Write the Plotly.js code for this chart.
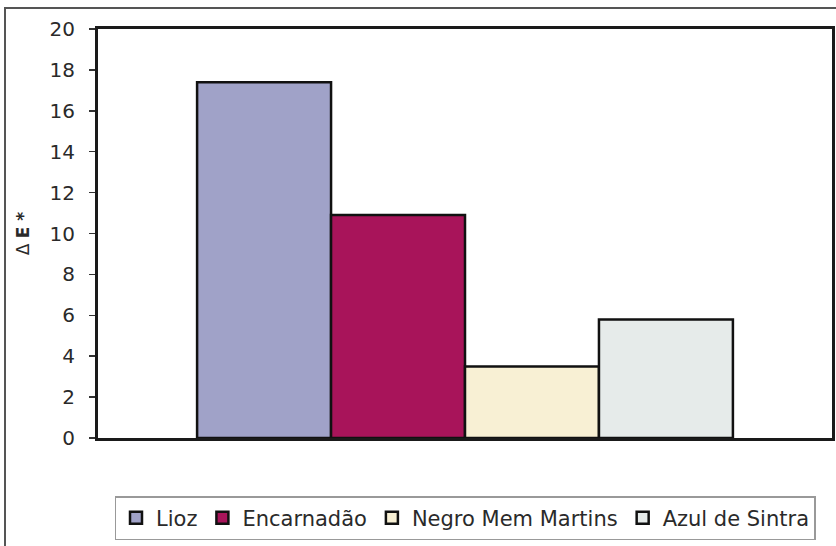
<!DOCTYPE html>
<html>
<head>
<meta charset="utf-8">
<script src="https://cdn.plot.ly/plotly-3.0.1.min.js"></script>
<style>
  html, body { margin: 0; padding: 0; background: #fff; }
  #wrap { position: relative; width: 836px; height: 546px; }
  #chart { width: 836px; height: 546px; }
  #frame {
    position: absolute; left: 4px; top: 7px; width: 900px; height: 600px;
    border-left: 2px solid #555; border-top: 2px solid #555;
    pointer-events: none;
  }
</style>
</head>
<body>
<div id="wrap">
  <div id="chart"></div>
  <div id="frame"></div>
</div>
<script>
// Colour difference (ΔE*) per stone type
const stones = ['Lioz', 'Encarnadão', 'Negro Mem Martins', 'Azul de Sintra'];
const deltaE = [17.4, 10.9, 3.5, 5.8];
const colors = ['#a0a2c8', '#a8145a', '#f8f0d4', '#e6ebea'];
const yTicks = [0, 2, 4, 6, 8, 10, 12, 14, 16, 18, 20];

const FONT = 'DejaVu Sans, Arial, sans-serif';

const traces = stones.map((name, i) => ({
  type: 'bar',
  name: name,
  x: [''],
  y: [deltaE[i]],
  marker: { color: colors[i], line: { color: '#111', width: 2.5 } },
  hoverinfo: 'name+y'
}));

const layout = {
  width: 836,
  height: 546,
  margin: { l: 98, r: 4, t: 29, b: 108 },
  paper_bgcolor: '#fff',
  plot_bgcolor: '#fff',
  barmode: 'group',
  bargap: 0.27,
  bargroupgap: 0,
  showlegend: true,
  font: { family: FONT, color: '#2a2a2a' },
  xaxis: {
    type: 'category',
    showticklabels: false,
    ticks: '',
    showgrid: false,
    zeroline: false,
    showline: true,
    mirror: true,
    linecolor: '#1a1a1a',
    linewidth: 3,
    fixedrange: true
  },
  yaxis: {
    range: [0, 20],
    tickvals: yTicks,
    ticktext: yTicks.map(String),
    ticks: 'outside',
    ticklen: 6,
    tickwidth: 1.5,
    tickcolor: '#333',
    ticklabelstandoff: 10,
    tickfont: { family: FONT, size: 20, color: '#2a2a2a' },
    showgrid: false,
    zeroline: false,
    showline: true,
    mirror: true,
    linecolor: '#1a1a1a',
    linewidth: 3,
    title: {
      text: 'Δ <b>E *</b>',
      font: { family: FONT, size: 17, color: '#2a2a2a' },
      standoff: 16
    },
    fixedrange: true
  },
  legend: {
    orientation: 'h',
    x: 0.5,
    xanchor: 'center',
    y: -0.142,
    yanchor: 'top',
    bordercolor: '#999',
    borderwidth: 1.5,
    bgcolor: '#fff',
    font: { family: FONT, size: 21, color: '#2a2a2a' },
    itemwidth: 30,
    traceorder: 'normal'
  }
};

Plotly.newPlot('chart', traces, layout, { displayModeBar: false, staticPlot: true });
</script>
</body>
</html>
